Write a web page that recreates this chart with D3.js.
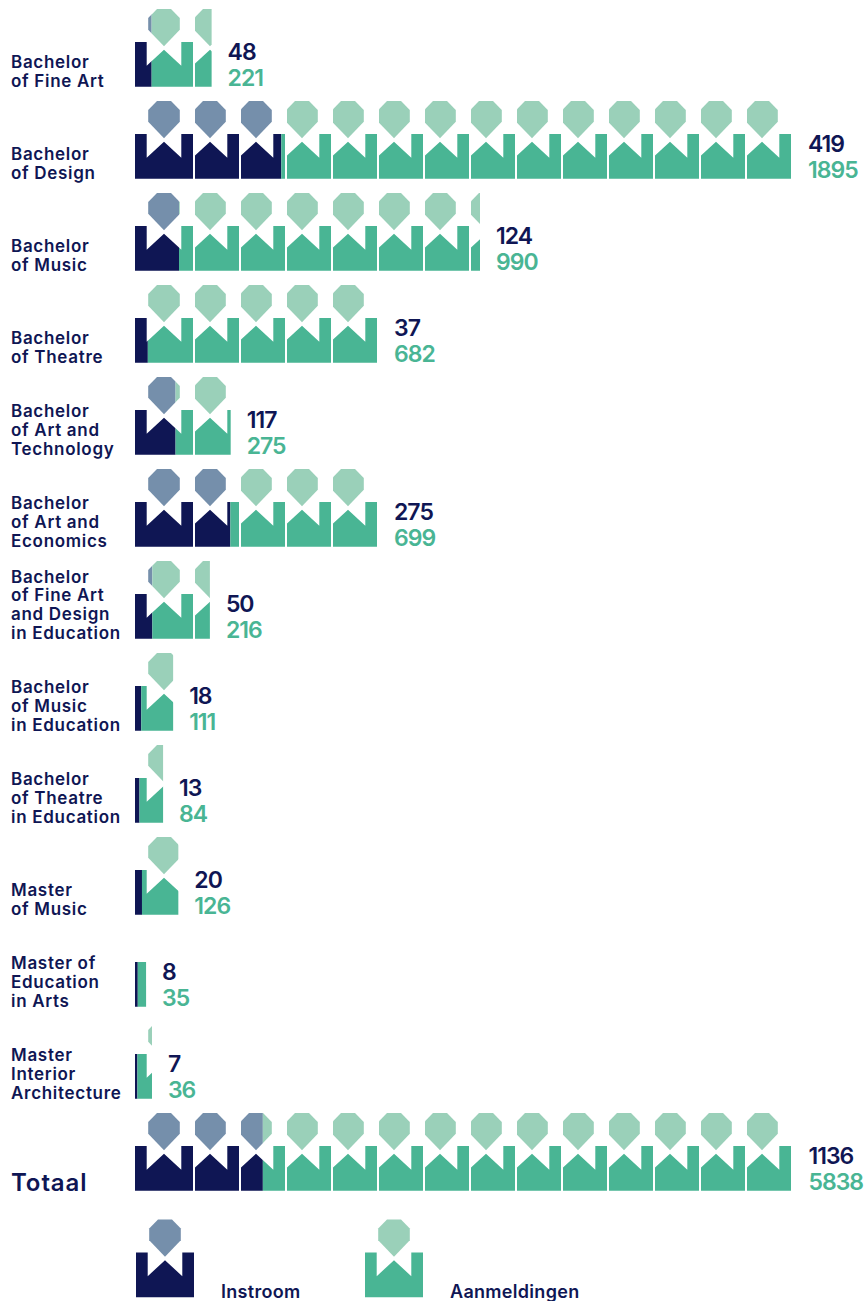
<!DOCTYPE html>
<html>
<head>
<meta charset="utf-8">
<title>Instroom en aanmeldingen</title>
<script src="https://cdn.jsdelivr.net/npm/d3@7"></script>
<style>
  html, body { margin: 0; padding: 0; background: #fff; }
  svg { display: block; }
  text { font-family: Inter, sans-serif; font-weight: 600; }
</style>
</head>
<body>
<div id="chartspace"></div>
<script>
var categories = [
    "Bachelor|of Fine Art",
    "Bachelor|of Design",
    "Bachelor|of Music",
    "Bachelor|of Theatre",
    "Bachelor|of Art and|Technology",
    "Bachelor|of Art and|Economics",
    "Bachelor|of Fine Art|and Design|in Education",
    "Bachelor|of Music|in Education",
    "Bachelor|of Theatre|in Education",
    "Master|of Music",
    "Master of|Education|in Arts",
    "Master|Interior|Architecture"
];
var instroom = [48, 419, 124, 37, 117, 275, 50, 18, 13, 20, 8, 7];
var aanmeldingen = [221, 1895, 990, 682, 275, 699, 216, 111, 84, 126, 35, 36];
// lengths as drawn in the picture, a few differ from the printed numbers
var instroomDrawn = [48, 422, 127, 37, 117, 275, 50, 18, 13, 20, 8, 7];
var aanmeldingenDrawn = [221, 1895, 995, 701, 276, 701, 216, 110, 81, 125, 32, 49];
var totalLabel = "Totaal";
var totalInstroom = 1136;
var totalAanmeldingen = 5838;
var legendLabels = ["Instroom", "Aanmeldingen"];

var navy = "#0f1654", navyHead = "#758fab", green = "#49b594", greenHead = "#9ad0b9";

var width = 868, height = 1301;
var left = 135, right = 792;
var rowStep = 92, firstRow = 42;
var figureStep = 46, figureHalf = 29;

var x = d3.scaleLinear().domain([0, d3.max(aanmeldingenDrawn)]).range([left, right]);
var xTotal = d3.scaleLinear().domain([0, totalAanmeldingen]).range([left, right]);
var y = d3.scaleLinear().domain([0, 1]).range([firstRow, firstRow + rowStep]);

var svg = d3.select("#chartspace").append("svg")
    .attr("width", width)
    .attr("height", height);

var defs = svg.append("defs");

var headPath = "M-7,-33L7,-33L15.8,-24L15.8,-12.2L0,4.3L-15.8,-12.2L-15.8,-24Z";
var bodyPath = "M-29,0L-17.3,0L-17.3,23.7L0,7.7L17.3,23.7L17.3,0L29,0L29,44.7L-29,44.7Z";

// figures after the first lose their left shoulder so they sit 2px apart
defs.append("clipPath").attr("id", "cut")
    .append("rect")
    .attr("x", -15).attr("y", -40)
    .attr("width", 50).attr("height", 90);

function figure(g, cx, top, cut, bodyColor, headColor) {
    var f = g.append("g").attr("transform", "translate(" + cx + "," + top + ")");
    if (cut) f = f.append("g").attr("clip-path", "url(#cut)");
    f.append("path").attr("d", headPath).attr("fill", headColor);
    f.append("path").attr("d", bodyPath).attr("fill", bodyColor);
}

function row(id, top, from, split, to) {
    var parts = [
        { key: "a", x0: from, x1: split, body: navy, head: navyHead },
        { key: "b", x0: split, x1: to, body: green, head: greenHead }
    ];
    parts.forEach(function (p) {
        var clipId = "clip-" + id + p.key;
        defs.append("clipPath").attr("id", clipId)
            .append("rect")
            .attr("x", p.x0).attr("y", top - 40)
            .attr("width", Math.max(0, p.x1 - p.x0)).attr("height", 90);
        var g = svg.append("g").attr("clip-path", "url(#" + clipId + ")");
        d3.range(14).forEach(function (i) {
            figure(g, left + figureHalf + i * figureStep, top, i > 0, p.body, p.head);
        });
    });
}

function numbers(top, labelX, a, b) {
    svg.append("text").attr("x", labelX).attr("y", top + 18)
        .attr("font-size", 23).attr("letter-spacing", -1).attr("fill", navy).text(a);
    svg.append("text").attr("x", labelX).attr("y", top + 44)
        .attr("font-size", 23).attr("letter-spacing", -1).attr("fill", green).text(b);
}

categories.forEach(function (c, i) {
    var top = y(i);
    row(i, top, left, x(instroomDrawn[i]), x(aanmeldingenDrawn[i]));
    numbers(top, x(aanmeldingenDrawn[i]) + 16, instroom[i], aanmeldingen[i]);

    var lines = c.split("|");
    lines.forEach(function (line, j) {
        svg.append("text")
            .attr("x", 11)
            .attr("y", top + 44.8 - (lines.length - 1 - j) * 18.7)
            .attr("font-size", 17)
            .attr("letter-spacing", 0.7)
            .attr("fill", navy)
            .text(line);
    });
});

var totalTop = y(categories.length);
row("t", totalTop, left, xTotal(totalInstroom), xTotal(totalAanmeldingen));
numbers(totalTop, xTotal(totalAanmeldingen) + 16.5, totalInstroom, totalAanmeldingen);
svg.append("text").attr("x", 11).attr("y", totalTop + 45)
    .attr("font-size", 24).attr("letter-spacing", 0.9).attr("fill", navy).text(totalLabel);

var legendX = d3.scalePoint().domain(legendLabels).range([165, 394]);
legendLabels.forEach(function (l, i) {
    figure(svg, legendX(l), 1252.5, false, i ? green : navy, i ? greenHead : navyHead);
    svg.append("text").attr("x", legendX(l) + 56).attr("y", 1298)
        .attr("font-size", 18).attr("letter-spacing", 0.3).attr("fill", navy).text(l);
});
</script>
</body>
</html>
